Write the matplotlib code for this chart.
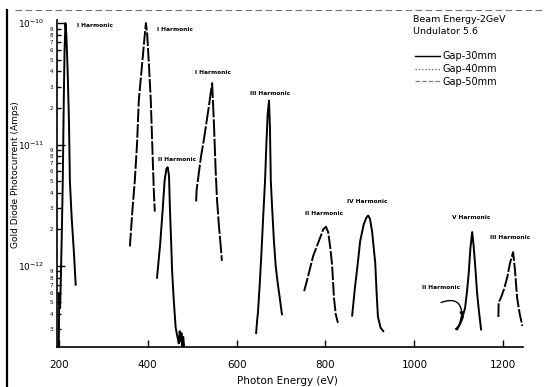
import numpy as np
import matplotlib
matplotlib.use("Agg")
import matplotlib.pyplot as plt
from matplotlib.lines import Line2D
from matplotlib.ticker import FixedLocator, FuncFormatter, LogFormatterSciNotation

# ---------------- data ----------------
# Gap-30mm
g30_I_x = [200, 201, 203, 205, 207, 209, 211, 213, 215, 217, 220, 223, 225, 229, 234, 238]
g30_I_y = [2.2e-13, 6e-13, 4.5e-13, 9e-13, 2e-12, 5e-12, 2e-11, 6e-11, 1.0e-10, 8e-11, 4e-11, 1.5e-11, 5e-12, 2.5e-12, 1.3e-12, 7e-13]

g30_II_x = [421, 428, 434, 438, 442, 445, 448, 450, 453, 455, 459, 463, 466, 468, 470, 472, 474, 476, 478, 480, 482]
g30_II_y = [8e-13, 1.5e-12, 3e-12, 5e-12, 6.3e-12, 6.5e-12, 5.5e-12, 3e-12, 1.5e-12, 9e-13, 5e-13, 3.1e-13, 2.7e-13, 2.5e-13, 2.3e-13, 2.9e-13, 2.4e-13, 2.8e-13, 2.2e-13, 2.6e-13, 2.16e-13]

g30_III_x = [644, 646, 648, 652, 656, 660, 664, 667, 670, 673, 675, 677, 680, 684, 688, 691, 693, 697, 702]
g30_III_y = [2.8e-13, 3.5e-13, 4.1e-13, 7e-13, 1.3e-12, 2.6e-12, 5e-12, 1e-11, 1.8e-11, 2.3e-11, 1.4e-11, 5e-12, 3e-12, 1.6e-12, 1e-12, 8e-13, 7e-13, 5.5e-13, 4e-13]

g30_IV_x = [860, 866, 872, 878, 886, 892, 896, 900, 905, 909, 912, 915, 918, 924, 930]
g30_IV_y = [3.9e-13, 6.5e-13, 1e-12, 1.6e-12, 2.2e-12, 2.5e-12, 2.6e-12, 2.45e-12, 1.9e-12, 1.35e-12, 1.05e-12, 6e-13, 3.8e-13, 3.1e-13, 2.9e-13]

g30_V_x = [1096, 1102, 1106, 1110, 1114, 1118, 1122, 1126, 1130, 1133, 1137, 1141, 1145, 1150]
g30_V_y = [3e-13, 3.3e-13, 3.8e-13, 4e-13, 4.5e-13, 6e-13, 8.5e-13, 1.4e-12, 1.9e-12, 1.5e-12, 9.8e-13, 6e-13, 4.3e-13, 3e-13]

# Gap-40mm
g40_I_x = [360, 366, 371, 376, 380, 387, 392, 396, 399, 403, 407, 412, 414, 416]
g40_I_y = [1.45e-12, 3e-12, 5e-12, 1e-11, 2.3e-11, 4.4e-11, 7e-11, 1.0e-10, 8e-11, 4.4e-11, 2.3e-11, 6.5e-12, 4e-12, 2.8e-12]

g40_II_x = [752, 760, 772, 785, 795, 801, 806, 811, 815, 819, 823, 828]
g40_II_y = [6.2e-13, 8e-13, 1.2e-12, 1.6e-12, 2e-12, 2.1e-12, 1.9e-12, 1.4e-12, 1e-12, 5.5e-13, 4e-13, 3.4e-13]

g40_III_x = [1189, 1189.5, 1195, 1202, 1209, 1215, 1222, 1226, 1231, 1237, 1243]
g40_III_y = [3.8e-13, 5e-13, 5.5e-13, 6.5e-13, 8.1e-13, 1.05e-12, 1.3e-12, 9.5e-13, 5.5e-13, 4e-13, 3.2e-13]

# Gap-50mm
g50_I_x = [509, 510, 515, 520, 526, 532, 538, 542, 545, 549, 553, 556, 560, 564, 567]
g50_I_y = [3.4e-12, 4.2e-12, 5.8e-12, 8e-12, 1.07e-11, 1.5e-11, 2.1e-11, 2.7e-11, 3.2e-11, 1.5e-11, 6e-12, 3.5e-12, 2.2e-12, 1.5e-12, 1.1e-12]

g50_II_x = [1092, 1097, 1102, 1107, 1110]
g50_II_y = [3.0e-13, 3.1e-13, 3.3e-13, 3.6e-13, 3.9e-13]

harmonic_labels = ["I Harmonic", "I Harmonic", "I Harmonic", "II Harmonic", "III Harmonic",
                   "II Harmonic", "IV Harmonic", "V Harmonic", "II Harmonic", "III Harmonic"]
label_x = [241, 421, 506, 423, 630, 754, 849, 1085, 1017, 1171]
label_y = [9.6e-11, 8.9e-11, 3.9e-11, 7.5e-12, 2.65e-11, 2.7e-12, 3.4e-12, 2.5e-12, 6.6e-13, 1.7e-12]

legend_labels = ["Gap-30mm", "Gap-40mm", "Gap-50mm"]
x_ticks = [200, 400, 600, 800, 1000, 1200]
y_major = [1e-12, 1e-11, 1e-10]
y_minor = [3e-13, 4e-13, 5e-13, 6e-13, 7e-13, 8e-13, 9e-13,
           2e-12, 3e-12, 4e-12, 5e-12, 6e-12, 7e-12, 8e-12, 9e-12,
           2e-11, 3e-11, 4e-11, 5e-11, 6e-11, 7e-11, 8e-11, 9e-11]

# ---------------- figure ----------------
W, H = 549, 387
fig = plt.figure(figsize=(W / 100, H / 100), dpi=100)
ax = fig.add_axes([57 / W, 1 - 347 / H, (523.3 - 57) / W, (347 - 20) / H])

ls30 = "-"
ls40 = (0, (7, 1))
ls50 = (0, (9, 1))
lw = 1.4
col = "black"

for xs, ys in [(g30_I_x, g30_I_y), (g30_II_x, g30_II_y), (g30_III_x, g30_III_y),
               (g30_IV_x, g30_IV_y), (g30_V_x, g30_V_y)]:
    ax.plot(xs, ys, color=col, lw=lw, ls=ls30)
for xs, ys in [(g40_I_x, g40_I_y), (g40_II_x, g40_II_y), (g40_III_x, g40_III_y)]:
    ax.plot(xs, ys, color=col, lw=lw, ls=ls40)
for xs, ys in [(g50_I_x, g50_I_y), (g50_II_x, g50_II_y)]:
    ax.plot(xs, ys, color=col, lw=lw, ls=ls50)

for t, x, y in zip(harmonic_labels, label_x, label_y):
    ax.text(x, y, t, fontsize=4.2, fontweight="bold", ha="left", va="center", color="black")

# curved pointer from the small "II Harmonic" label
ax.annotate("", xy=(1107, 3.8e-13), xytext=(1060, 5.0e-13),
            arrowprops=dict(arrowstyle="-|>", color="black", lw=1.0,
                            mutation_scale=6, connectionstyle="arc3,rad=-0.7",
                            shrinkA=0, shrinkB=0))

ax.set_yscale("log")
ax.set_xlim(196, 1245)
ax.set_ylim(2.15e-13, 1.06e-10)

ax.xaxis.set_major_locator(FixedLocator(x_ticks))
ax.xaxis.set_major_formatter(FuncFormatter(lambda v, p: "%d" % v))
ax.yaxis.set_major_locator(FixedLocator(y_major))
ax.yaxis.set_major_formatter(LogFormatterSciNotation())
ax.yaxis.set_minor_locator(FixedLocator(y_minor))
ax.yaxis.set_minor_formatter(FuncFormatter(
    lambda v, p: str(int(round(v / 10 ** np.floor(np.log10(v) + 1e-9))))))

ax.tick_params(axis="x", which="major", direction="in", length=5, width=1, pad=9, labelsize=7.5)
ax.tick_params(axis="x", which="minor", length=0)
ax.tick_params(axis="y", which="major", direction="in", length=6, width=1, pad=9, labelsize=6.5)
ax.tick_params(axis="y", which="minor", direction="in", length=3, width=1, pad=3, labelsize=4)

for s in ["top", "right"]:
    ax.spines[s].set_visible(False)
for s in ["left", "bottom"]:
    ax.spines[s].set_linewidth(1.2)

ax.set_xlabel("Photon Energy (eV)", fontsize=7.5)
ax.set_ylabel("Gold Diode Photocurrent (Amps)", fontsize=6.5)
ax.xaxis.set_label_coords(0.494, -0.089)
ax.yaxis.set_label_coords(-0.079, 0.526)

# legend / annotation block
fig.text(413 / W, 1 - 20 / H, "Beam Energy-2GeV", fontsize=6.8, ha="left", va="center")
fig.text(413 / W, 1 - 32 / H, "Undulator 5.6", fontsize=6.8, ha="left", va="center")
handles = [Line2D([], [], color="black", lw=1.0, ls="-"),
           Line2D([], [], color="0.35", lw=0.9, ls=":"),
           Line2D([], [], color="0.5", lw=0.9, ls="--")]
ax.legend(handles, legend_labels, loc="upper left",
          bbox_to_anchor=(415 / W, 1 - 51 / H), bbox_transform=fig.transFigure,
          frameon=False, fontsize=7, handlelength=2.6, handletextpad=0.2,
          labelspacing=0.3, borderpad=0, borderaxespad=0)

# scanned page edges
fig.add_artist(Line2D([7 / W, 7 / W], [1 - 10 / H, 0.0], transform=fig.transFigure,
                      color="black", lw=1.6))
fig.add_artist(Line2D([15 / W, 545 / W], [1 - 10 / H, 1 - 10 / H], transform=fig.transFigure,
                      color="0.45", lw=0.8, ls=(0, (6, 3))))

fig.savefig("out.png", dpi=100)
